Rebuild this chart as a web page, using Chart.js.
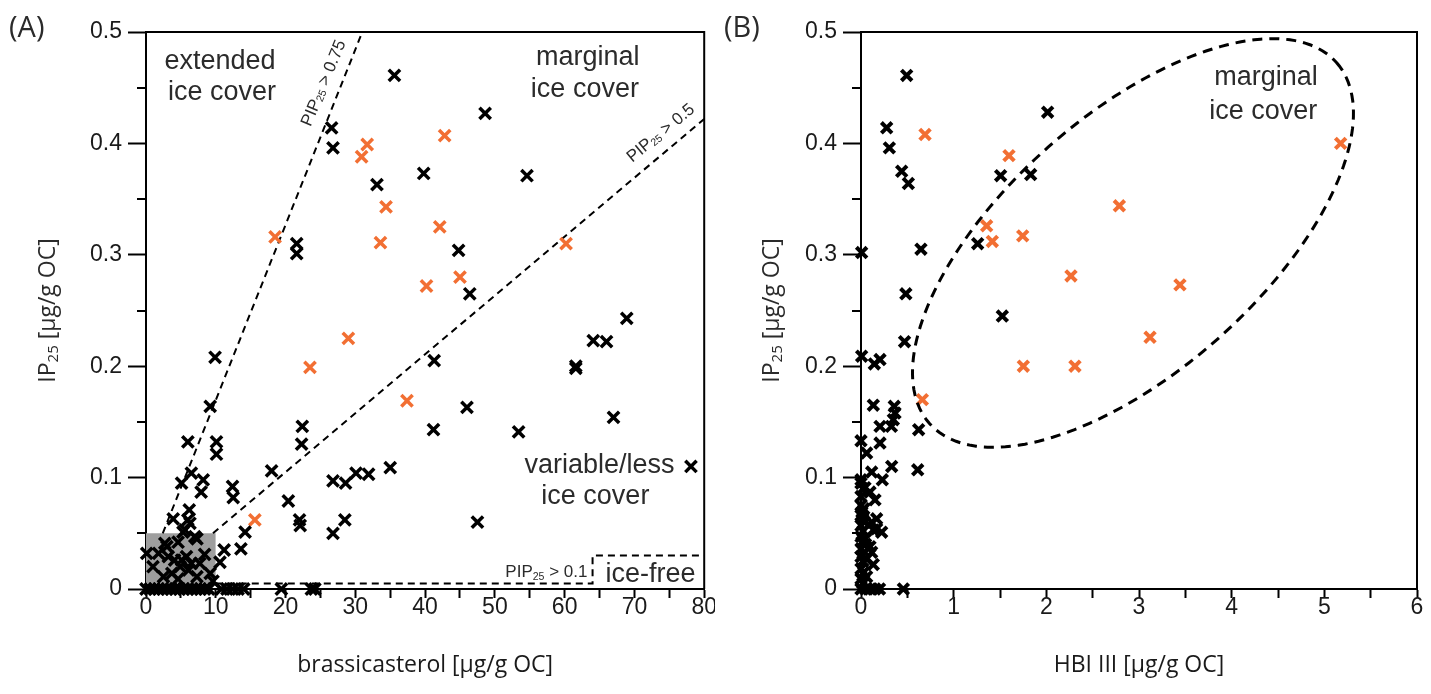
<!DOCTYPE html>
<html>
<head>
<meta charset="utf-8">
<script src="https://cdn.jsdelivr.net/npm/chart.js@4"></script>
<style>
  body { margin: 0; background: #fff; width: 1431px; height: 694px; overflow: hidden; position: relative; }
  canvas { position: absolute; top: 0; }
  #chartA { left: 0; }
  #chartB { left: 715px; }
</style>
</head>
<body>
<canvas id="chartA" width="715" height="694" style="width:715px;height:694px"></canvas>
<canvas id="chartB" width="716" height="694" style="width:716px;height:694px"></canvas>
<script>
// (A) brassicasterol vs IP25, [brassicasterol, IP25] in µg/g OC
const brassBlack = [
  [35.6, 0.461], [48.6, 0.427], [54.6, 0.371], [39.8, 0.373], [26.6, 0.414], [26.8, 0.396],
  [33.1, 0.363], [21.6, 0.310], [21.6, 0.301], [44.8, 0.304], [46.4, 0.265], [68.9, 0.243],
  [64.1, 0.223], [66.0, 0.222], [61.6, 0.200], [61.6, 0.198], [41.3, 0.205], [9.9, 0.208],
  [9.2, 0.164], [10.1, 0.132], [10.1, 0.121], [6.0, 0.132], [46.0, 0.163], [67.0, 0.154],
  [53.4, 0.141], [41.2, 0.143], [22.4, 0.146], [22.3, 0.130], [18.0, 0.106], [35.0, 0.109],
  [30.1, 0.104], [31.9, 0.103], [26.8, 0.097], [28.6, 0.095], [78.1, 0.110], [12.4, 0.092],
  [12.5, 0.082], [20.4, 0.079], [22.0, 0.062], [22.1, 0.057], [28.5, 0.062], [26.8, 0.050],
  [47.5, 0.060], [14.2, 0.051], [13.6, 0.036], [11.2, 0.035], [10.6, 0.024],
  [6.5, 0.104], [5.1, 0.095], [8.2, 0.098], [7.9, 0.087], [3.9, 0.063], [6.2, 0.071],
  [6.3, 0.059], [5.3, 0.051], [7.0, 0.047], [2.7, 0.041], [0.1, 0.032], [1.0, 0.020],
  [1.8, 0.032], [3.0, 0.038], [3.2, 0.029], [4.1, 0.026], [5.1, 0.026], [5.8, 0.029],
  [6.5, 0.023], [4.9, 0.020], [6.1, 0.017], [7.7, 0.023], [8.4, 0.031], [9.2, 0.014],
  [3.7, 0.014], [2.5, 0.011], [4.6, 0.009], [7.3, 0.011], [9.6, 0.007], [4.6, 0.042],
  [7.3, 0.045], [5.6, 0.053], [6.0, 0.062],
  [0, 0], [0.6, 0], [1.2, 0], [1.8, 0], [2.4, 0], [3.0, 0], [3.6, 0], [4.2, 0], [4.8, 0],
  [5.4, 0], [6.0, 0], [6.6, 0], [7.2, 0], [7.8, 0], [8.4, 0], [9.0, 0], [10.8, 0], [11.6, 0],
  [12.4, 0], [13.2, 0], [14.0, 0], [19.4, 0], [23.7, 0], [24.2, 0]
];
const brassOrange = [
  [18.5, 0.316], [23.5, 0.199], [29.0, 0.225], [30.9, 0.388], [31.7, 0.399], [33.6, 0.311],
  [34.4, 0.343], [37.4, 0.169], [40.2, 0.272], [42.1, 0.325], [42.8, 0.407], [45.0, 0.280],
  [60.2, 0.310], [15.6, 0.062]
];

// (B) HBI III vs IP25, [HBI III, IP25] in µg/g OC
const hbiBlack = [
  [0.493, 0.461], [0.277, 0.414], [0.306, 0.396], [0.439, 0.375], [0.511, 0.364], [2.014, 0.428],
  [1.507, 0.371], [1.831, 0.372], [1.259, 0.310], [0.007, 0.302], [0.647, 0.305], [0.484, 0.265],
  [1.525, 0.245], [0.470, 0.222], [0.007, 0.209], [0.144, 0.202], [0.205, 0.206], [0.133, 0.165],
  [0.359, 0.164], [0.367, 0.158], [0.349, 0.152], [0.205, 0.146], [0.328, 0.146], [0.622, 0.143],
  [0.0, 0.133], [0.205, 0.131], [0.061, 0.122], [0.331, 0.110], [0.612, 0.107], [0.115, 0.105],
  [0.230, 0.098], [0.0, 0.098], [0.043, 0.091], [0.0, 0.083], [0.097, 0.087], [0.151, 0.080],
  [0.010, 0.069], [0.020, 0.063], [0.169, 0.063], [0.115, 0.060], [0.223, 0.051], [0.169, 0.054],
  [0.133, 0.053], [0.115, 0.033], [0.097, 0.038], [0.133, 0.022], [0.061, 0.011],
  [0.0, 0.095], [0.020, 0.090], [0.0, 0.075], [0.030, 0.072], [0.0, 0.066], [0.040, 0.060],
  [0.0, 0.057], [0.020, 0.052], [0.0, 0.047], [0.050, 0.045], [0.010, 0.042], [0.0, 0.036],
  [0.040, 0.033], [0.0, 0.029], [0.020, 0.025], [0.060, 0.027], [0.0, 0.018], [0.030, 0.015],
  [0.0, 0.009], [0.020, 0.005], [0.050, 0.040],
  [0.0, 0], [0.05, 0], [0.10, 0], [0.15, 0], [0.20, 0], [0.457, 0]
];
const hbiOrange = [
  [0.691, 0.408], [1.597, 0.389], [2.788, 0.344], [1.356, 0.326], [1.417, 0.312], [1.745, 0.317],
  [2.266, 0.281], [5.176, 0.400], [3.442, 0.273], [3.119, 0.226], [1.752, 0.200], [2.309, 0.200],
  [0.662, 0.170]
];

// tick values
const brassTicks = [0, 10, 20, 30, 40, 50, 60, 70, 80];
const brassMinor = [0, 5, 10, 15, 20, 25, 30, 35, 40, 45, 50, 55, 60, 65, 70, 75, 80];
const hbiTicks = [0, 1, 2, 3, 4, 5, 6];
const hbiMinor = [0, 0.5, 1, 1.5, 2, 2.5, 3, 3.5, 4, 4.5, 5, 5.5, 6];
const ip25Ticks = [0, 0.1, 0.2, 0.3, 0.4, 0.5];
const ip25Minor = [0.05, 0.15, 0.25, 0.35, 0.45];

// threshold lines in (A)
const pip75Line = [[2.4, 0.05], [31, 0.5]];
const pip50Line = [[9.6, 0.05], [80, 0.422]];
const pip10Line = [[10, 0.005], [64, 0.005], [64, 0.03], [80, 0.03]];
const greyBoxTop = [[0, 0.05], [10, 0.05]];

// ellipse in (B): centre and two conjugate half-axes, in data units
const ellipseCentre = [2.935, 0.3106];
const ellipseU = [2.196, 0.162];
const ellipseV = [0.916, -0.086];

const ORANGE = '#f26f33';
const TEXT = '#2b2b2b';
const SANS = 'Liberation Sans';
const TITLE_FONT = 'Open Sans';

const toXY = (arr) => arr.map(([x, y]) => ({ x, y }));

const markers = (data, color, radius, width) => ({
  type: 'scatter',
  data: toXY(data),
  pointStyle: 'crossRot',
  pointRadius: radius,
  pointHoverRadius: radius,
  pointBorderWidth: width,
  borderColor: color,
  backgroundColor: color,
  clip: false,
  order: 1
});

const dashed = (data) => ({
  type: 'line',
  data: toXY(data),
  borderColor: '#000',
  borderWidth: 2,
  borderDash: [7, 5],
  pointRadius: 0,
  fill: false,
  tension: 0,
  order: 2
});

// draws text pieces [text, size, dy, font] one after another, optionally rotated
function drawRich(ctx, parts, x, y, angle, align, baseline) {
  ctx.save();
  ctx.translate(x, y);
  ctx.rotate(angle);
  ctx.fillStyle = TEXT;
  ctx.textBaseline = baseline || 'alphabetic';
  ctx.textAlign = 'left';
  let w = 0;
  parts.forEach((p) => {
    ctx.font = p[1] + 'px "' + (p[3] || SANS) + '"';
    w += ctx.measureText(p[0]).width;
  });
  let cx = align === 'center' ? -w / 2 : 0;
  parts.forEach((p) => {
    ctx.font = p[1] + 'px "' + (p[3] || SANS) + '"';
    ctx.fillText(p[0], cx, p[2]);
    cx += ctx.measureText(p[0]).width;
  });
  ctx.restore();
}

const pip = (rest, size) => [['PIP', size, 0], ['25', size * 0.62, 3], [rest, size, 0]];

function scaleOpts(min, max, labels, all, horizontal, title) {
  return {
    type: 'linear',
    min: min,
    max: max,
    afterBuildTicks: (s) => { s.ticks = all.map((v) => ({ value: v })); },
    afterFit: (s) => { if (horizontal) { s.height = 105; } else { s.width = 146; } },
    ticks: {
      autoSkip: false,
      maxRotation: 0,
      padding: horizontal ? -2 : 6,
      color: '#1a1a1a',
      font: { family: SANS, size: 23, lineHeight: 1 },
      callback: (v) => {
        if (!labels.includes(v)) return '';
        return horizontal ? String(v) : (v === 0 ? '0' : v.toFixed(1));
      }
    },
    grid: {
      drawOnChartArea: false,
      drawTicks: true,
      tickLength: horizontal ? 9 : 18,
      tickWidth: 2,
      tickColor: '#000'
    },
    border: { display: true, width: 2, color: '#000' },
    title: {
      display: !!title,
      text: title || '',
      color: '#1a1a1a',
      font: { family: TITLE_FONT, size: 23, lineHeight: 1.2 },
      padding: { top: 0, bottom: 15 }
    }
  };
}

// frame, minor ticks, panel letter, y title and texts
function decorPlugin(letter, titleX, drawTexts) {
  return {
    id: 'decor' + letter,
    beforeDatasetsDraw(chart) {
      const { ctx, chartArea: a, scales } = chart;
      ctx.save();
      ctx.strokeStyle = '#000';
      ctx.lineWidth = 2;
      ctx.beginPath();
      ctx.moveTo(a.left, a.top);
      ctx.lineTo(a.right, a.top);
      ctx.lineTo(a.right, a.bottom);
      ip25Minor.forEach((v) => {
        const y = Math.round(scales.y.getPixelForValue(v));
        ctx.moveTo(a.left - 9, y);
        ctx.lineTo(a.left, y);
      });
      ctx.stroke();
      ctx.restore();
    },
    afterDatasetsDraw(chart) {
      const { ctx, chartArea: a, scales } = chart;
      drawRich(ctx, [['(' + letter + ')', 29, 0, TITLE_FONT]], 9, 37, 0, 'left');
      drawRich(ctx, [['IP', 23, 0, TITLE_FONT], ['25', 15, 6, TITLE_FONT], [' [µg/g OC]', 23, 0, TITLE_FONT]],
        titleX, (a.top + a.bottom) / 2, -Math.PI / 2, 'center', 'middle');
      drawTexts(ctx, scales.x, scales.y);
    }
  };
}

function textAt(ctx, sx, sy, str, x, y, size) {
  drawRich(ctx, [[str, size, 0]], sx.getPixelForValue(x), sy.getPixelForValue(y), 0, 'center');
}

const textsA = (ctx, sx, sy) => {
  textAt(ctx, sx, sy, 'extended', 10.6, 0.467, 27);
  textAt(ctx, sx, sy, 'ice cover', 10.9, 0.439, 27);
  textAt(ctx, sx, sy, 'marginal', 63.3, 0.470, 27);
  textAt(ctx, sx, sy, 'ice cover', 62.9, 0.4417, 27);
  textAt(ctx, sx, sy, 'variable/less', 65.0, 0.1044, 27);
  textAt(ctx, sx, sy, 'ice cover', 64.4, 0.0763, 27);
  textAt(ctx, sx, sy, 'ice-free', 72.3, 0.0066, 27);
  drawRich(ctx, pip(' > 0.1', 17), sx.getPixelForValue(51.5), sy.getPixelForValue(0.011), 0, 'left');
  drawRich(ctx, pip(' > 0.75', 17), sx.getPixelForValue(25.5), sy.getPixelForValue(0.454),
    -67.2 * Math.PI / 180, 'center', 'middle');
  drawRich(ctx, pip(' > 0.5', 17), sx.getPixelForValue(73.8), sy.getPixelForValue(0.409),
    -39.4 * Math.PI / 180, 'center', 'middle');
};

const textsB = (ctx, sx, sy) => {
  // dashed ellipse round the marginal ice cover samples
  ctx.save();
  ctx.strokeStyle = '#000';
  ctx.lineWidth = 3;
  ctx.setLineDash([10, 7]);
  ctx.beginPath();
  for (let i = 0; i <= 360; i += 2) {
    const t = i * Math.PI / 180;
    const x = ellipseCentre[0] + ellipseU[0] * Math.cos(t) + ellipseV[0] * Math.sin(t);
    const y = ellipseCentre[1] + ellipseU[1] * Math.cos(t) + ellipseV[1] * Math.sin(t);
    const px = sx.getPixelForValue(x);
    const py = sy.getPixelForValue(y);
    if (i === 0) ctx.moveTo(px, py); else ctx.lineTo(px, py);
  }
  ctx.stroke();
  ctx.restore();
  textAt(ctx, sx, sy, 'marginal', 4.37, 0.4524, 27);
  textAt(ctx, sx, sy, 'ice cover', 4.34, 0.4219, 27);
};

function baseOptions(xMin, xMax, xLabels, xAll, xTitle) {
  return {
    responsive: false,
    animation: false,
    layout: { autoPadding: false, padding: { top: 32, right: 10, left: 0, bottom: 0 } },
    plugins: { legend: { display: false }, tooltip: { enabled: false } },
    scales: {
      x: scaleOpts(xMin, xMax, xLabels, xAll, true, xTitle),
      y: scaleOpts(0, 0.5, ip25Ticks, ip25Ticks, false, null)
    }
  };
}

const optionsA = baseOptions(0, 80, brassTicks, brassMinor, 'brassicasterol [µg/g OC]');
const optionsB = baseOptions(0, 6, hbiTicks, hbiMinor, 'HBI III [µg/g OC]');
optionsB.layout.padding.right = 14;

new Chart(document.getElementById('chartA'), {
  type: 'scatter',
  data: {
    datasets: [
      {
        type: 'line',
        data: toXY(greyBoxTop),
        borderWidth: 0,
        borderColor: 'rgba(0,0,0,0)',
        backgroundColor: '#9e9e9e',
        pointRadius: 0,
        fill: { value: 0.005 },
        order: 5
      },
      dashed(pip75Line),
      dashed(pip50Line),
      dashed(pip10Line),
      markers(brassBlack, '#000', 8, 3.5),
      markers(brassOrange, ORANGE, 8, 3.5)
    ]
  },
  options: optionsA,
  plugins: [decorPlugin('A', 48, textsA)]
});

new Chart(document.getElementById('chartB'), {
  type: 'scatter',
  data: {
    datasets: [
      markers(hbiBlack, '#000', 7.5, 4),
      markers(hbiOrange, ORANGE, 7.5, 4)
    ]
  },
  options: optionsB,
  plugins: [decorPlugin('B', 57, textsB)]
});
</script>
</body>
</html>
